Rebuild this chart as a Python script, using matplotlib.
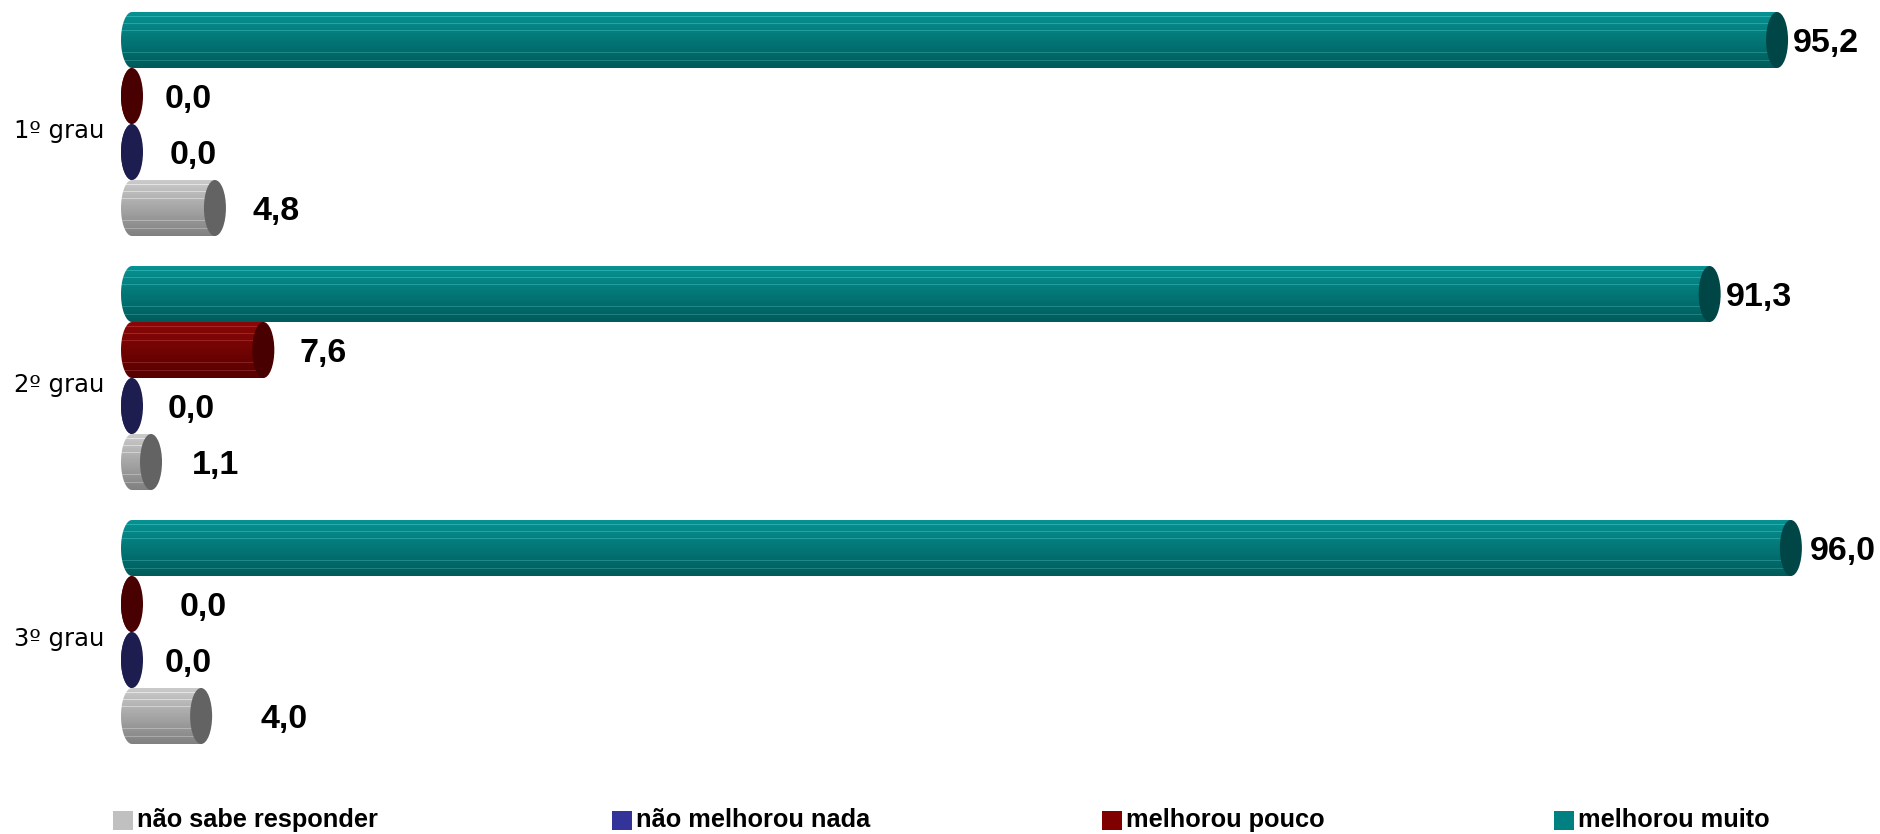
import numpy as np
import matplotlib
matplotlib.use("Agg")
import matplotlib.pyplot as plt
from matplotlib.patches import Ellipse, Polygon, Rectangle

# --- data ---
groups = ["1º grau", "2º grau", "3º grau"]
series = ["melhorou muito", "melhorou pouco", "não melhorou nada", "não sabe responder"]
muito = [95.2, 91.3, 96.0]
pouco = [0.0, 7.6, 0.0]
nada = [0.0, 0.0, 0.0]
nao_sabe = [4.8, 1.1, 4.0]
values = [muito, pouco, nada, nao_sabe]

# --- styling ---
body_colors = ["#007b7b", "#760000", "#2e2e7a", "#aeaeae"]
cap_colors = ["#004646", "#480000", "#1d1d50", "#636363"]
legend_colors = {"não sabe responder": "#c0c0c0", "não melhorou nada": "#333399",
                 "melhorou pouco": "#800000", "melhorou muito": "#008080"}
legend_order = ["não sabe responder", "não melhorou nada", "melhorou pouco", "melhorou muito"]
legend_x_px = [113, 612, 1102, 1554]
# gap (px) between the cap and its value label, per series / group
label_pad = [[5, 5, 8], [22, 25, 37], [27, 25, 22], [27, 30, 48]]

W, H, DPI = 1881, 834, 100
px_per_unit = 17.28   # x pixels per percentage point
zero_px = 132         # pixel column of value 0
group_px = 254        # pixel distance between groups
first_center_px = 124
bar_h = 56 / group_px
hh = bar_h / 2
rx = 11 / px_per_unit

fig = plt.figure(figsize=(W / DPI, H / DPI), dpi=DPI)
ax = fig.add_axes([0, 0, 1, 1])
ax.set_axis_off()


def shade(color, n=60):
    base = np.array(matplotlib.colors.to_rgb(color))
    t = np.linspace(0, 1, n)
    f = 1.12 - 0.38 * t
    rows = np.clip(base[None, :] * f[:, None] + 0.03 * (1 - t)[:, None], 0, 1)
    for pos in (0.08, 0.2, 0.33, 0.72, 0.86):
        i = int(pos * n)
        rows[i] = np.clip(rows[i] + 0.12, 0, 1)
    return rows[:, None, :]


theta = np.linspace(np.pi / 2, 3 * np.pi / 2, 40)
for gi, g in enumerate(groups):
    for si, s in enumerate(series):
        v = values[si][gi]
        yc = gi + (si - 1.5) * bar_h
        # body with rounded left end
        xs = list(rx * np.cos(theta)) + [v, v]
        ys = list(yc - hh * np.sin(theta)) + [yc + hh, yc - hh]
        poly = Polygon(np.column_stack([xs, ys]), closed=True, facecolor="none",
                       edgecolor="none", transform=ax.transData)
        ax.add_patch(poly)
        im = ax.imshow(shade(body_colors[si]), extent=(-rx, v + 0.01, yc + hh, yc - hh),
                       origin="upper", aspect="auto", interpolation="nearest", zorder=2)
        im.set_clip_path(poly)
        ax.add_patch(Ellipse((v, yc), 2 * rx, bar_h, facecolor=cap_colors[si],
                             edgecolor="none", zorder=3))
        ax.annotate(f"{v:.1f}".replace(".", ","), (v, yc),
                    xytext=(rx * px_per_unit + label_pad[si][gi], -3),
                    textcoords="offset pixels", ha="left", va="center",
                    fontsize=24.5, fontweight="bold", family="Liberation Sans",
                    color="black", zorder=4)

    ax.text(14 / W, gi + 0.028, g, transform=ax.get_yaxis_transform(),
            ha="left", va="center", fontsize=17.5, family="DejaVu Sans", color="black")

ax.set_xlim(-zero_px / px_per_unit, (W - zero_px) / px_per_unit)
ax.set_ylim((H - first_center_px) / group_px, -first_center_px / group_px)

# legend drawn by hand to keep Excel's spacing
for name, lx in zip(legend_order, legend_x_px):
    fig.add_artist(Rectangle((lx / W, 1 - 830 / H), 20 / W, 19 / H,
                             transform=fig.transFigure, facecolor=legend_colors[name],
                             edgecolor="none"))
    fig.text((lx + 24) / W, 1 - 820 / H, name, ha="left", va="center",
             fontsize=18.3, fontweight="bold", family="Liberation Sans")

fig.savefig("out.png", dpi=DPI)
